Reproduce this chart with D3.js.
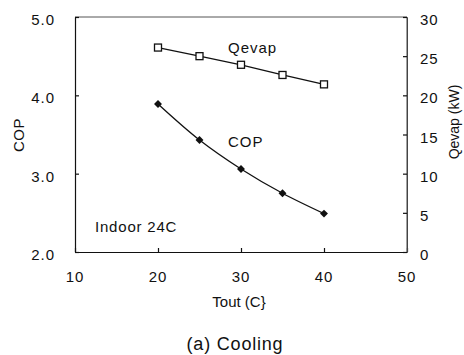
<!DOCTYPE html>
<html><head><meta charset="utf-8">
<script src="https://cdn.jsdelivr.net/npm/d3@7"></script>
<style>body{margin:0;background:#fff}svg{display:block}text{font-family:"Liberation Sans",Arial,sans-serif;fill:#111}</style>
</head><body><div id="c"></div>
<script>
const tout = [20, 25, 30, 35, 40];
const cop = [3.89, 3.43, 3.06, 2.75, 2.49];
const qevap = [26.1, 25.0, 23.9, 22.6, 21.4];
const xTicks = [10, 20, 30, 40, 50];
const copTicks = [2.0, 3.0, 4.0, 5.0];
const qTicks = [0, 5, 10, 15, 20, 25, 30];

const W = 464, H = 355;
const L = 75, R = 407, T = 17, B = 252;
const svg = d3.select("#c").append("svg").attr("width", W).attr("height", H);
const x = d3.scaleLinear().domain([10, 50]).range([L, R]);
const yL = d3.scaleLinear().domain([2, 5]).range([B, T]);
const yR = d3.scaleLinear().domain([0, 30]).range([B, T]);

// frame
svg.append("line").attr("x1", L).attr("x2", R).attr("y1", T).attr("y2", T).attr("stroke", "#555").attr("stroke-width", 1);
svg.append("line").attr("x1", R).attr("x2", R).attr("y1", T).attr("y2", B).attr("stroke", "#444").attr("stroke-width", 1);

const gx = svg.append("g").attr("transform", `translate(0,${B})`)
  .call(d3.axisTop(x).tickValues(xTicks).tickSize(4).tickSizeOuter(0).tickFormat(""));
const gl = svg.append("g").attr("transform", `translate(${L},0)`)
  .call(d3.axisRight(yL).tickValues(copTicks).tickSize(4).tickSizeOuter(0).tickFormat(""));
const gr = svg.append("g").attr("transform", `translate(${R},0)`)
  .call(d3.axisLeft(yR).tickValues(qTicks).tickSize(4).tickSizeOuter(0).tickFormat(""));
[gx, gl, gr].forEach(g => { g.selectAll("path,line").attr("stroke", "#111").attr("stroke-width", 1.2); });
gr.select("path").attr("stroke", "#444").attr("stroke-width", 1);

// tick labels
svg.append("g").selectAll("text").data(xTicks).join("text")
  .attr("x", d => x(d)).attr("y", 282).attr("text-anchor", "middle")
  .style("font-size", "15px").style("letter-spacing", "1px").text(d => d);
svg.append("g").selectAll("text").data(copTicks).join("text")
  .attr("x", 55).attr("y", d => yL(d) + 8).attr("text-anchor", "end")
  .style("font-size", "15px").style("letter-spacing", "1px").text(d => d.toFixed(1));
svg.append("g").selectAll("text").data(qTicks).join("text")
  .attr("x", 420).attr("y", d => yR(d) + 8).attr("text-anchor", "start")
  .style("font-size", "15px").style("letter-spacing", "1px").text(d => d);

// axis titles
svg.append("text").attr("transform", "translate(24,135) rotate(-90)").attr("text-anchor", "middle")
  .style("font-size", "15px").style("letter-spacing", "0.5px").text("COP");
svg.append("text").attr("transform", "translate(459,122) rotate(-90)").attr("text-anchor", "middle")
  .style("font-size", "14px").text("Qevap (kW)");
svg.append("text").attr("x", 239).attr("y", 307).attr("text-anchor", "middle")
  .style("font-size", "15px").text("Tout (C}");
svg.append("text").attr("x", 235).attr("y", 350).attr("text-anchor", "middle")
  .style("font-size", "18px").style("letter-spacing", "0.8px").text("(a) Cooling");

// series
const lineQ = d3.line().x((d, i) => x(tout[i])).y(d => yR(d));
svg.append("path").attr("d", lineQ(qevap)).attr("fill", "none").attr("stroke", "#111").attr("stroke-width", 1.3);
const lineC = d3.line().x((d, i) => x(tout[i])).y(d => yL(d)).curve(d3.curveCatmullRom);
svg.append("path").attr("d", lineC(cop)).attr("fill", "none").attr("stroke", "#111").attr("stroke-width", 1.3);

svg.append("g").selectAll("rect").data(qevap).join("rect")
  .attr("x", (d, i) => x(tout[i]) - 3.5).attr("y", d => yR(d) - 3.5)
  .attr("width", 7).attr("height", 7).attr("fill", "#fff").attr("stroke", "#111").attr("stroke-width", 1.3);
const diamond = d3.symbol().type(d3.symbolDiamond2).size(40);
svg.append("g").selectAll("path").data(cop).join("path")
  .attr("d", diamond).attr("transform", (d, i) => `translate(${x(tout[i])},${yL(d)})`).attr("fill", "#111");

// annotations
svg.append("text").attr("x", 228).attr("y", 53).style("font-size", "15px").style("letter-spacing", "1px").text("Qevap");
svg.append("text").attr("x", 228).attr("y", 147).style("font-size", "15px").style("letter-spacing", "1px").text("COP");
svg.append("text").attr("x", 95).attr("y", 232).style("font-size", "15px").style("letter-spacing", "0.8px").text("Indoor 24C");
</script></body></html>
